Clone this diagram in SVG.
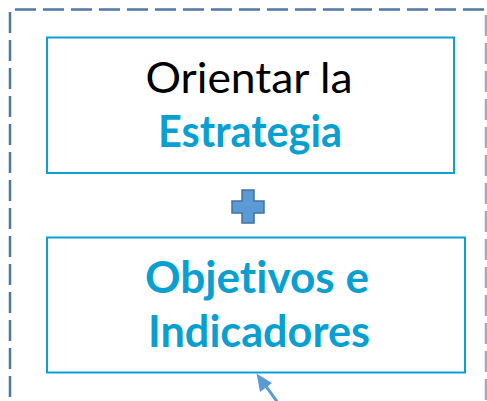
<svg xmlns="http://www.w3.org/2000/svg" width="487" height="401" viewBox="0 0 487 401">
<style>
.frame{fill:none;stroke:#4f78a3;stroke-width:2.5;stroke-dasharray:21 7}
.box{fill:#fff;stroke:#0aa0d4;stroke-width:2}
.t{font-family:Lato,"Liberation Sans",Arial,sans-serif;font-size:43px;text-anchor:middle;font-variant-ligatures:none;font-feature-settings:"liga" 0}
.b{font-weight:bold;fill:#0a9fd1}
</style>
<g id="frame">
<line class="frame" x1="15" y1="9.5" x2="487" y2="9.5"/>
<line class="frame" x1="10" y1="12" x2="10" y2="401"/>
<line class="frame" x1="486" y1="15" x2="486" y2="401" stroke-opacity="0.6"/>
</g>
<g id="node-estrategia">
<rect class="box" x="47" y="37.5" width="407" height="135.5"/>
<text class="t" x="249" y="93" textLength="207" lengthAdjust="spacingAndGlyphs">Orientar la</text>
<text class="t b" x="250" y="147" textLength="184" lengthAdjust="spacingAndGlyphs">Estrategia</text>
</g>
<g id="plus">
<path d="M242,190 h12 v11 h10 v12 h-10 v10 h-12 v-10 h-10 v-12 h10 z" fill="#5b9bd5" stroke="#41719c" stroke-width="1.5"/>
</g>
<g id="node-objetivos">
<rect class="box" x="47" y="237.5" width="418" height="135"/>
<text class="t b" x="257" y="293" textLength="224" lengthAdjust="spacingAndGlyphs">Objetivos e</text>
<text class="t b" x="259" y="347" textLength="222" lengthAdjust="spacingAndGlyphs">Indicadores</text>
</g>
<g id="connectors">
<line x1="283" y1="410" x2="263" y2="382" stroke="#5b9bd5" stroke-width="3"/>
<path d="M256.5,373.5 L272,383 L260,392 Z" fill="#5b9bd5"/>
</g>
</svg>
